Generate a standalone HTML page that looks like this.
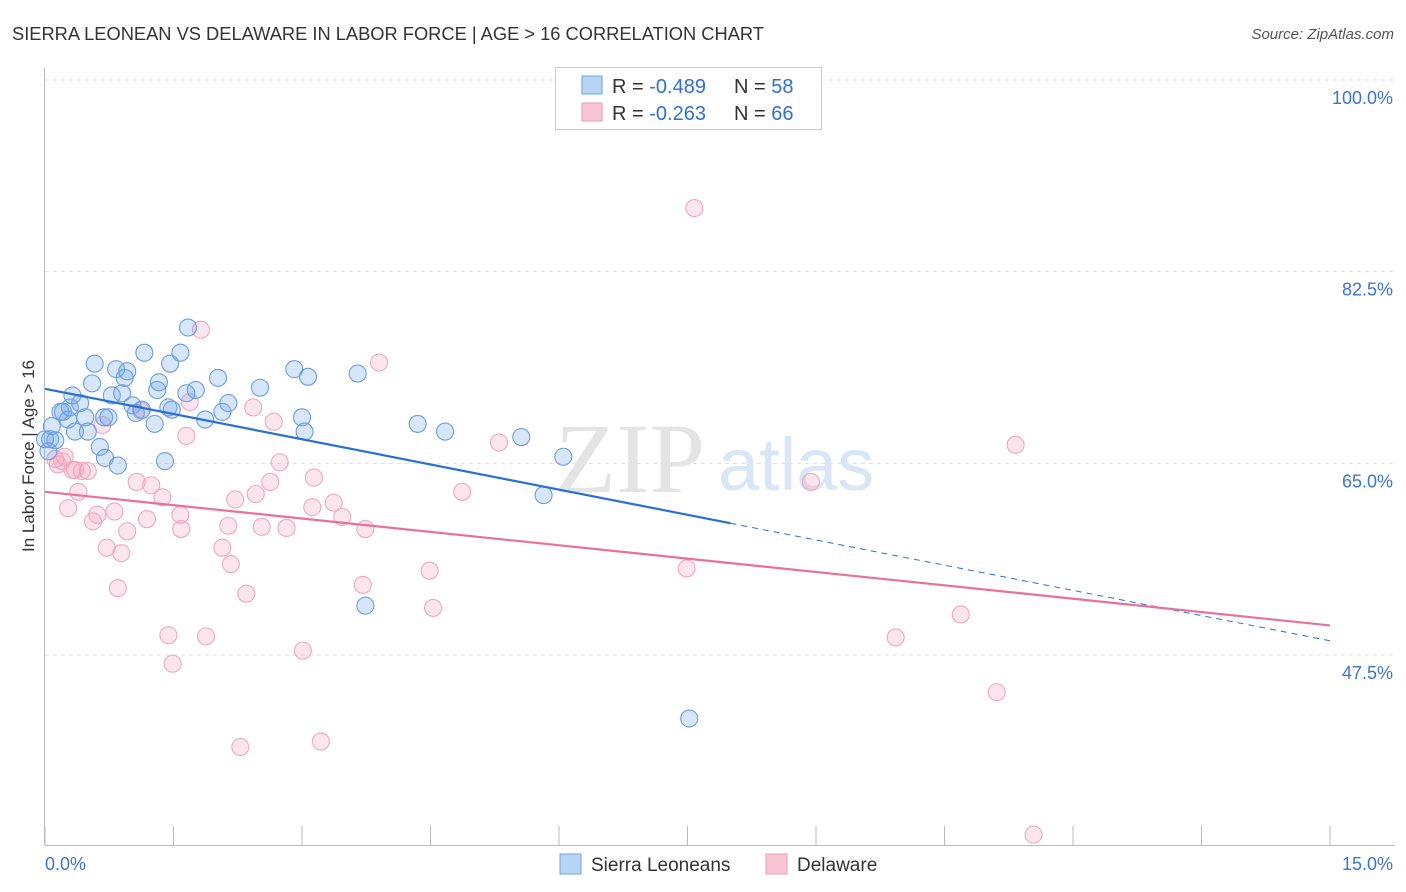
<!DOCTYPE html>
<html><head><meta charset="utf-8"><style>
body{margin:0;background:#fff;font-family:"Liberation Sans",sans-serif;}
svg{display:block}
</style></head><body>
<svg id="chart" width="1406" height="892" xmlns="http://www.w3.org/2000/svg">
<text x="12" y="40" font-size="18.3" fill="#333">SIERRA LEONEAN VS DELAWARE IN LABOR FORCE | AGE &gt; 16 CORRELATION CHART</text>
<text x="1394" y="39" font-size="15" fill="#555" font-style="italic" text-anchor="end">Source: ZipAtlas.com</text>
<text x="34" y="456" font-size="17" fill="#333" text-anchor="middle" transform="rotate(-90 34 456)">In Labor Force | Age &gt; 16</text>
<g id="grid"></g>
<text x="555" y="492" font-size="100" fill="#e4e4e4" font-family="Liberation Serif,serif">ZIP</text>
<text x="718" y="490" font-size="74" fill="#d8e6f5">atlas</text>
<g id="marks"></g>
<g id="lines"></g>
<g>
<rect x="555.5" y="67.5" width="266" height="62" fill="#fff" stroke="#ccc"/>
<rect x="582" y="76" width="20" height="18" fill="#b8d4f5" stroke="#6fa3e0"/>
<rect x="582" y="103" width="20" height="18" fill="#f9c6d6" stroke="#ee9ab5"/>
<text x="612" y="93" font-size="20" fill="#333">R = <tspan fill="#2f6fd6">-0.489</tspan><tspan x="734">N = </tspan><tspan fill="#2f6fd6">58</tspan></text>
<text x="612" y="120" font-size="20" fill="#333">R = <tspan fill="#2f6fd6">-0.263</tspan><tspan x="734">N = </tspan><tspan fill="#2f6fd6">66</tspan></text>
</g>
<g>
<rect x="560" y="854" width="21" height="20" fill="#b8d4f5" stroke="#6fa3e0"/>
<text x="591" y="871" font-size="19" fill="#333">Sierra Leoneans</text>
<rect x="766" y="854" width="21" height="20" fill="#f9c6d6" stroke="#ee9ab5"/>
<text x="797" y="871" font-size="19" fill="#333">Delaware</text>
</g>
</svg>
<script>
const yTicks=[100,82.5,65,47.5];
const yTickLabels=["100.0%","82.5%","65.0%","47.5%"];
const xTickVals=[0,1.5,3,4.5,6,7.5,9,10.5,12,13.5,15];
const xEndLabels=["0.0%","15.0%"];
const blueX=[0.08,0.12,0.18,0.21,0.27,0.29,0.32,0.35,0.41,0.47,0.5,0.55,0.58,0.64,0.69,0.7,0.74,0.78,0.83,0.85,0.9,0.93,0.96,1.02,1.06,1.13,1.16,1.28,1.31,1.33,1.4,1.44,1.46,1.48,1.58,1.65,1.67,1.76,1.87,2.02,2.07,2.14,2.51,2.91,3.0,3.03,3.07,3.65,3.74,4.35,4.67,5.56,6.05,5.82,7.52,0.06,0.0,0.04];
const blueY=[68.4,67.1,69.7,69.7,69.0,70.1,71.2,67.9,70.5,69.2,67.9,72.3,74.1,66.5,69.2,65.5,69.2,71.2,73.6,64.8,71.4,72.8,73.4,70.3,69.6,69.9,75.1,68.6,71.7,72.4,65.2,70.1,74.1,69.9,75.1,71.4,77.4,71.7,69.0,72.8,69.7,70.5,71.9,73.6,69.2,67.9,72.9,73.2,52.0,68.6,67.9,67.4,65.6,62.1,41.7,67.2,67.2,66.1];
const pinkX=[7.58,1.82,3.9,1.69,1.12,2.43,2.67,1.65,0.67,0.23,0.12,0.15,0.32,0.5,0.43,0.39,0.27,0.56,0.61,0.81,0.96,1.07,1.24,1.19,1.37,1.58,1.59,2.14,2.22,2.46,2.53,2.63,2.74,2.82,3.12,3.14,3.37,3.47,3.74,0.72,0.89,0.85,2.07,2.17,2.35,3.71,4.49,4.53,4.87,5.3,1.44,1.88,1.49,3.01,2.28,3.22,7.49,8.94,9.93,10.69,11.11,11.33,11.54,0.2,0.35];
const pinkY=[88.3,77.2,74.2,70.6,69.8,70.1,68.8,67.5,68.5,65.6,65.4,64.9,64.4,64.3,64.3,62.4,60.9,59.7,60.3,60.6,58.8,63.3,63.0,59.9,61.9,60.3,59.0,59.3,61.7,62.2,59.2,63.3,65.1,59.1,61.0,63.7,61.4,60.1,59.0,57.3,56.8,53.6,57.3,55.8,53.1,53.9,55.2,51.8,62.4,66.9,49.3,49.2,46.7,47.9,39.1,39.6,55.4,63.3,49.1,51.2,44.1,66.7,31.1,65.2,64.4];
const blueTrend=[71.8,48.8], blueSolidEnd=8.0;
const pinkTrend=[62.4,50.2];

const NS="http://www.w3.org/2000/svg";
const X0=45,X1=1330,YT=80,YB=655;
const xs=v=>X0+(X1-X0)*v/15;
const ys=v=>YT+(100-v)*(YB-YT)/52.5;
function mk(tag,at,parent){const e=document.createElementNS(NS,tag);for(const k in at)e.setAttribute(k,at[k]);parent.appendChild(e);return e;}
const grid=document.getElementById('grid'),marks=document.getElementById('marks'),lines=document.getElementById('lines');
yTicks.forEach((t,i)=>{
  const l=mk('line',{x1:45,x2:1395,y1:ys(t),y2:ys(t),stroke:'#ddd','stroke-dasharray':'4 4'},grid);
  
  
  const tx=mk('text',{x:1393,y:ys(t)+24,'font-size':18,fill:'#3b74d6','text-anchor':'end'},grid);
  tx.textContent=yTickLabels[i];
  
  
});
const ax=mk('line',{x1:44.5,x2:44.5,y1:68,y2:845,stroke:'#bbb'},grid);


const bx=mk('line',{x1:45,x2:1395,y1:845.5,y2:845.5,stroke:'#bbb'},grid);


xTickVals.forEach(v=>{
  const t=mk('line',{x1:xs(v),x2:xs(v),y1:826,y2:845,stroke:'#bbb'},grid);
  
  
});
[[0,'start',45],[15,'end',1393]].forEach((a,i)=>{
  const t=mk('text',{x:a[2],y:870,'font-size':18,fill:'#3b74d6','text-anchor':a[1]},grid);
  t.textContent=xEndLabels[i];
  
  
});
pinkX.forEach((v,i)=>{
  const c=mk('circle',{cx:xs(v),cy:ys(pinkY[i]),r:8.5,fill:'rgba(244,160,190,0.28)',stroke:'#f0a8c0','stroke-width':1.1},marks);
  
  
});
blueX.forEach((v,i)=>{
  const c=mk('circle',{cx:xs(v),cy:ys(blueY[i]),r:8.5,fill:'rgba(110,165,235,0.28)',stroke:'#6a9fe0','stroke-width':1.1},marks);
  
  
});
const by=v=>blueTrend[0]+(blueTrend[1]-blueTrend[0])*v/15;
const b1=mk('line',{x1:xs(0),y1:ys(blueTrend[0]),x2:xs(blueSolidEnd),y2:ys(by(blueSolidEnd)),stroke:'#2a6fd8','stroke-width':2.2},lines);


const b2=mk('line',{x1:xs(blueSolidEnd),y1:ys(by(blueSolidEnd)),x2:xs(15),y2:ys(blueTrend[1]),stroke:'#2a6fd8','stroke-width':1,'stroke-dasharray':'6 5'},lines);


const p1=mk('line',{x1:xs(0),y1:ys(pinkTrend[0]),x2:xs(15),y2:ys(pinkTrend[1]),stroke:'#e8709a','stroke-width':2.2},lines);


</script>
</body></html>
